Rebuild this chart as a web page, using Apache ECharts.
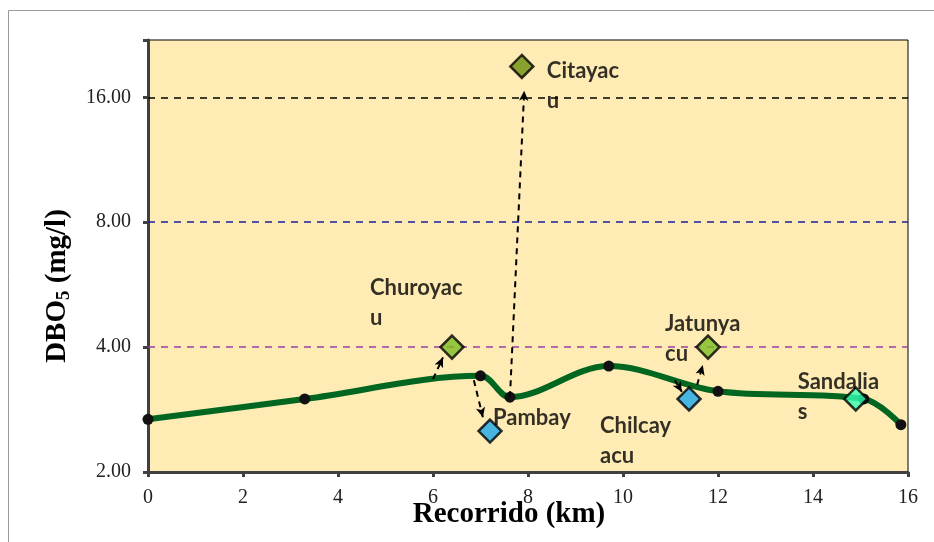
<!DOCTYPE html>
<html>
<head>
<meta charset="utf-8">
<script src="https://cdn.jsdelivr.net/npm/echarts@6/dist/echarts.min.js"></script>
<style>html,body{margin:0;padding:0;background:#fff}#c{width:934px;height:542px}</style>
</head>
<body>
<div id="c"></div>
<script>
// ---- data ----
const mainKm  = [0, 3.3, 7.0, 7.62, 9.7, 12.0, 15.07, 15.85];
const mainDbo = [2.68, 3.0, 3.41, 3.03, 3.6, 3.13, 3.0, 2.6];

const tribNames  = ['Churoyacu', 'Pambay', 'Citayacu', 'Chilcayacu', 'Jatunyacu', 'Sandalias'];
const tribLabels = ['Churoyac\nu', 'Pambay', 'Citayac\nu', 'Chilcay\nacu', 'Jatunya\ncu', 'Sandalia\ns'];
const tribKm     = [6.4, 7.2, 7.87, 11.39, 11.79, 14.9];
const tribDbo    = [4.0, 2.51, 19.0, 3.0, 4.0, 3.0];

const refLevels = [16, 8, 4];
const yTickValues = [2, 4, 8, 16];

// arrows: from point on river to tributary
const arrowFromKm  = [6.0, 6.86, 7.62, 11.09, 11.56];
const arrowFromDbo = [3.35, 3.33, 3.03, 3.33, 3.24];
const arrowToKm    = [6.21, 7.05, 7.92, 11.24, 11.68];
const arrowToDbo   = [3.78, 2.71, 16.6, 3.12, 3.62];

// ---- styles ----
const tribColors = ['#7dbb22', '#1aa7ec', '#6b8e0e', '#1aa7ec', '#7dbb22', '#33ffb3'];
const labelOffsets = [[-82, -74], [3, -28], [25, -11], [-89, 12], [-43, -38], [-58, -32]];
const refColors = ['#000000', '#1c1c9c', '#9a3fa0'];

const serif = '"Liberation Serif", "Times New Roman", serif';
const sans = 'Lato, "Open Sans", sans-serif';

const chart = echarts.init(document.getElementById('c'));
chart.setOption({
  animation: false,
  backgroundColor: '#ffffff',
  graphic: [{
    type: 'rect', shape: {x: 8.5, y: 10.5, width: 1000, height: 1000},
    style: {fill: 'none', stroke: '#9a9a9a', lineWidth: 1}, z: -10
  }],
  grid: {
    left: 148, top: 40, right: 26, bottom: 70,
    outerBoundsMode: 'none', containLabel: false,
    show: true, backgroundColor: '#ffecb5', borderColor: '#000', borderWidth: 1
  },
  xAxis: {
    type: 'value', min: 0, max: 16, interval: 2,
    axisLine: {lineStyle: {color: '#404040', width: 3}},
    axisTick: {show: true, length: 5, lineStyle: {color: '#404040', width: 3}},
    splitLine: {show: false},
    axisLabel: {fontFamily: serif, fontSize: 20, color: '#222', margin: 16},
    name: 'Recorrido (km)', nameLocation: 'middle', nameGap: 28, nameMoveOverlap: false,
    nameTextStyle: {fontFamily: serif, fontSize: 29, fontWeight: 'bold', color: '#000', padding: [0, 38, 0, 0]}
  },
  yAxis: {
    type: 'log', logBase: 2, min: 2, max: 22,
    axisLine: {show: true, lineStyle: {color: '#404040', width: 3}},
    axisTick: {show: true, length: 5, lineStyle: {color: '#404040', width: 3}},
    splitLine: {show: false},
    axisLabel: {
      fontFamily: serif, fontSize: 20, color: '#222', margin: 17,
      formatter: v => {
        const m = yTickValues.find(t => Math.abs(t - v) < 1e-6);
        return m ? m.toFixed(2) : '';
      }
    },
    name: '{a|DBO}{b|5}{a| (mg/l)}', nameLocation: 'middle', nameGap: 74, nameRotate: 90,
    nameTextStyle: {
      padding: [0, 60, 0, 0],
      rich: {
        a: {fontFamily: serif, fontSize: 29, fontWeight: 'bold', color: '#000'},
        b: {fontFamily: serif, fontSize: 19, fontWeight: 'bold', color: '#000', padding: [14, 0, 0, 0]}
      }
    }
  },
  series: [
    {
      type: 'line', name: 'Rio',
      data: mainKm.map((x, i) => [x, mainDbo[i]]),
      smooth: 0.35,
      lineStyle: {color: '#006620', width: 6},
      symbol: 'circle', symbolSize: 11,
      itemStyle: {color: '#111', borderWidth: 0},
      z: 3,
      markLine: {
        silent: true, symbol: ['none', 'none'],
        label: {show: false},
        data: refLevels.map((v, i) => ({
          yAxis: v,
          lineStyle: {color: refColors[i], type: [7, 6], width: 1.5}
        }))
      }
    },
    {
      type: 'scatter', name: 'arrows', data: [],
      markLine: {
        silent: true, symbol: ['none', 'arrow'], symbolSize: [7, 10],
        label: {show: false},
        lineStyle: {color: '#000', type: [6, 5], width: 2},
        data: arrowFromKm.map((x, i) => [
          {coord: [x, arrowFromDbo[i]]},
          {coord: [arrowToKm[i], arrowToDbo[i]]}
        ])
      },
      z: 4
    },
    {
      type: 'scatter', name: 'Tributarios',
      symbol: 'diamond', symbolSize: 23,
      z: 5,
      data: tribKm.map((x, i) => ({
        name: tribNames[i],
        value: [x, tribDbo[i]],
        itemStyle: {color: tribColors[i], borderColor: '#000', borderWidth: 2.5},
        label: {
          show: true, formatter: tribLabels[i],
          position: 'inside', align: 'left', verticalAlign: 'top',
          offset: labelOffsets[i],
          fontFamily: sans, fontSize: 22, fontWeight: 'bold', color: '#000', lineHeight: 30
        }
      }))
    }
  ]
});
</script>
</body>
</html>
